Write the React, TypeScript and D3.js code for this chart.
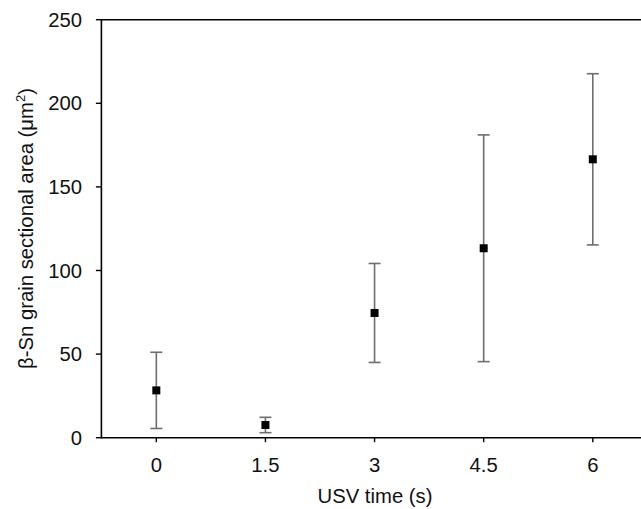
import React from "react";
import * as d3 from "d3";

const times = [0, 1.5, 3, 4.5, 6];
const means = [28.3, 7.6, 74.6, 113.3, 166.5];
const errors = [22.8, 4.6, 29.6, 67.8, 51.2];
const xTicks = [0, 1.5, 3, 4.5, 6];
const yTicks = [0, 50, 100, 150, 200, 250];

const W = 641;
const H = 509;
const FONT = "Liberation Sans, Arial, sans-serif";
const FS = 20.3;

export default function App() {
  const x = d3.scaleLinear().domain([-0.755, 6]).range([101.4, 592.8]);
  const y = d3.scaleLinear().domain([0, 250]).range([437.7, 19.7]);
  const x0 = x(-0.755);
  const capW = 6;
  const mk = 8;
  return (
    <svg
      width={W}
      height={H}
      style={{ position: "absolute", left: 0, top: 0, background: "#fff" }}
      fontFamily={FONT}
    >
      {/* frame lines */}
      <line x1={x0} x2={W} y1={y(250)} y2={y(250)} stroke="#000" strokeWidth={1.6} />
      <line x1={x0} x2={W} y1={y(0)} y2={y(0)} stroke="#000" strokeWidth={1.6} />
      <line x1={x0} x2={x0} y1={y(250) - 0.8} y2={y(0) + 0.8} stroke="#000" strokeWidth={1.6} />
      {/* y ticks */}
      {yTicks.map((t) => (
        <g key={"y" + t}>
          <line x1={x0 - 5.5} x2={x0} y1={y(t)} y2={y(t)} stroke="#000" strokeWidth={1.4} />
          <text x={82} y={y(t)} dy="0.35em" textAnchor="end" fontSize={FS} fill="#111">
            {t}
          </text>
        </g>
      ))}
      {/* x ticks */}
      {xTicks.map((t) => (
        <g key={"x" + t}>
          <line x1={x(t)} x2={x(t)} y1={y(0)} y2={y(0) + 4.5} stroke="#000" strokeWidth={1.4} />
          <text x={x(t)} y={472} textAnchor="middle" fontSize={FS} fill="#111">
            {t}
          </text>
        </g>
      ))}
      {/* error bars */}
      {times.map((t, i) => {
        const cx = x(t);
        const top = y(means[i] + errors[i]);
        const bot = y(means[i] - errors[i]);
        return (
          <g key={"e" + i} stroke="#6e6e6e" strokeWidth={1.6}>
            <line x1={cx} x2={cx} y1={top} y2={bot} />
            <line x1={cx - capW} x2={cx + capW} y1={top} y2={top} />
            <line x1={cx - capW} x2={cx + capW} y1={bot} y2={bot} />
          </g>
        );
      })}
      {/* markers */}
      {times.map((t, i) => (
        <rect
          key={"m" + i}
          x={x(t) - mk / 2}
          y={y(means[i]) - mk / 2}
          width={mk}
          height={mk}
          fill="#000"
        />
      ))}
      {/* axis titles */}
      <text x={375} y={503} textAnchor="middle" fontSize={FS} fill="#111">
        USV time (s)
      </text>
      <text
        transform={`translate(33,228.5) rotate(-90)`}
        textAnchor="middle"
        fontSize={FS}
        fill="#111"
      >
        β-Sn grain sectional area (μm<tspan dy="-8" fontSize={13}>2</tspan>
        <tspan dy="8">)</tspan>
      </text>
    </svg>
  );
}
